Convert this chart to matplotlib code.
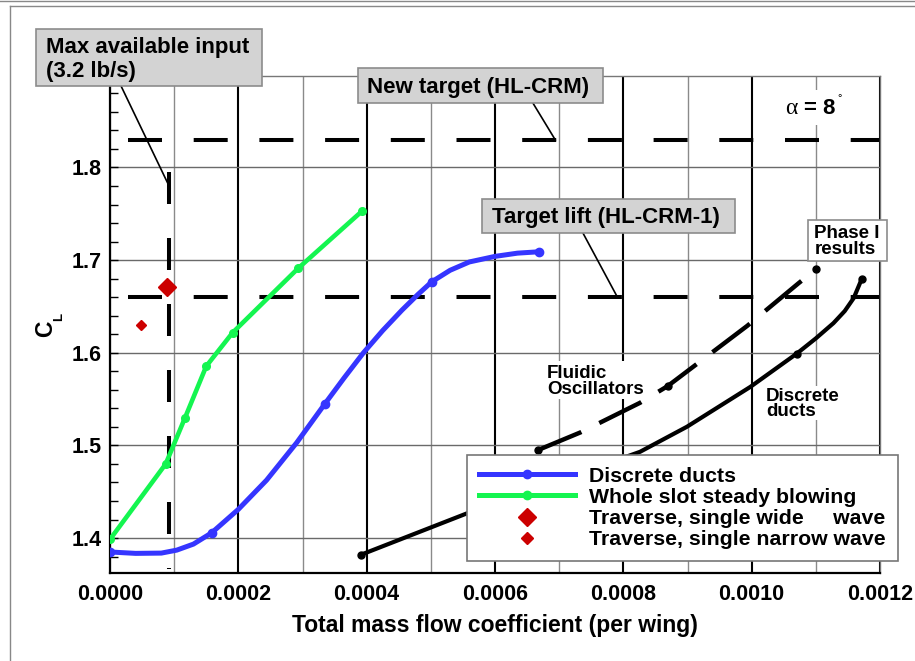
import matplotlib
matplotlib.use("Agg")
import matplotlib.pyplot as plt
from matplotlib.lines import Line2D
from matplotlib.patches import Rectangle
from matplotlib.ticker import MultipleLocator, FormatStrFormatter

W, H = 915, 661

# Discrete ducts, current configuration (markers at MARK_DUCT)
duct_x = [0.0, 0.000040, 0.000080, 0.000104, 0.000130, 0.0001585, 0.000200, 0.000244,
          0.000291, 0.000335, 0.000365, 0.000395, 0.000425, 0.000455, 0.000480,
          0.0005015, 0.000530, 0.000560, 0.000600, 0.000635, 0.000669]
duct_cl = [1.385, 1.3835, 1.3838, 1.387, 1.3935, 1.4057, 1.431, 1.4625,
           1.503, 1.545, 1.573, 1.600, 1.624, 1.646, 1.663,
           1.6766, 1.689, 1.698, 1.704, 1.7075, 1.709]
MARK_DUCT = [0, 5, 9, 15, 20]

# Whole slot steady blowing
slot_x = [0.0, 0.0000868, 0.000117, 0.000150, 0.000191, 0.000293, 0.000393]
slot_cl = [1.3986, 1.480, 1.530, 1.5855, 1.6216, 1.691, 1.753]

# Traverse points
wide_x, wide_cl = [0.0000884], [1.6712]
narrow_x, narrow_cl = [0.0000483], [1.630]

# Phase I results
p1_duct_x = [0.000391, 0.000556, 0.000826, 0.000899, 0.000998, 0.0010705, 0.0011,
             0.0011275, 0.001145, 0.001159, 0.0011718]
p1_duct_cl = [1.382, 1.4266, 1.4931, 1.5201, 1.5632, 1.5992, 1.6155,
              1.632, 1.645, 1.659, 1.6801]
MARK_P1_DUCT = [0, 5, 10]

p1_osc_x = [0.000667, 0.000733, 0.000826, 0.000869, 0.000993, 0.001073, 0.001100]
p1_osc_cl = [1.495, 1.514, 1.546, 1.564, 1.629, 1.675, 1.690]
MARK_P1_OSC = [0, 3, 6]

# Reference levels
new_target = 1.83
target_lift = 1.66
max_input_x = 0.0000925
max_input_span = [1.7955, 1.3666]

legend_labels = ["Discrete ducts", "Whole slot steady blowing",
                 "Traverse, single wide     wave", "Traverse, single narrow wave"]

BLUE = "#3535ff"
GREEN = "#14f550"
RED = "#cc0000"

plt.rcParams["font.family"] = "Liberation Sans"
plt.rcParams["font.weight"] = "bold"


def fx(px):
    return px / W


def fy(py):
    return 1 - py / H


def dash(lw, on, off, offset=0.0):
    # dash lengths given in pixels, converted to linewidth units
    k = 0.72 / lw
    return (offset * k, (on * k, off * k))


fig = plt.figure(figsize=(W / 100, H / 100), dpi=100)
ax = fig.add_axes([fx(110), fy(573.3), fx(880) - fx(110), fy(75.7) - fy(573.3)])

ax.set_xlim(0, 0.0012)
ax.set_ylim(1.362, 1.899)

ax.xaxis.set_major_locator(MultipleLocator(0.0002))
ax.xaxis.set_minor_locator(MultipleLocator(0.0001))
ax.yaxis.set_major_locator(MultipleLocator(0.1))
ax.yaxis.set_minor_locator(MultipleLocator(0.02))
ax.xaxis.set_major_formatter(FormatStrFormatter("%.4f"))
ax.yaxis.set_major_formatter(FormatStrFormatter("%.1f"))

ax.grid(which="major", axis="x", color="black", lw=1.5)
ax.grid(which="minor", axis="x", color="#8a8a8a", lw=1.0)
ax.grid(which="major", axis="y", color="#6a6a6a", lw=1.0)
ax.set_axisbelow(True)

ax.tick_params(axis="x", which="both", length=0, pad=8, labelsize=15.5)
ax.tick_params(axis="y", which="both", direction="in", length=6, width=1,
               pad=6, labelsize=15.5)

for s in ("left", "bottom"):
    ax.spines[s].set_linewidth(1.6)
    ax.spines[s].set_color("black")
for s in ("top", "right"):
    ax.spines[s].set_linewidth(1.0)
    ax.spines[s].set_color("#777777")

# reference levels
lw_ref = 2.9
ax.plot([0, 0.0012], [new_target, new_target], color="black", lw=lw_ref,
        ls=dash(lw_ref, 34, 31.7, 47.7), zorder=2)
ax.plot([0, 0.0012], [target_lift, target_lift], color="black", lw=lw_ref,
        ls=dash(lw_ref, 34, 31.7, 47.7), zorder=2)
ax.plot([max_input_x, max_input_x], max_input_span, color="black", lw=lw_ref,
        ls=dash(lw_ref, 32, 34), zorder=2)

# leader lines from the label boxes
ax.plot([0.0000172, 0.0000935], [1.8879, 1.7779], color="black", lw=1.2,
        clip_on=False, zorder=2)
ax.plot([0.000659, 0.000694], [1.8696, 1.8297], color="black", lw=1.2, zorder=2)
ax.plot([0.000737, 0.000790], [1.7293, 1.661], color="black", lw=1.2, zorder=2)

# Phase I curves
ax.plot(p1_duct_x, p1_duct_cl, color="black", lw=3.0, marker="o", ms=5,
        markevery=MARK_P1_DUCT, zorder=3, solid_capstyle="round",
        solid_joinstyle="round")
ax.plot(p1_osc_x, p1_osc_cl, color="black", lw=3.2, ls=dash(3.2, 47, 20),
        zorder=3)
ax.plot([p1_osc_x[i] for i in MARK_P1_OSC], [p1_osc_cl[i] for i in MARK_P1_OSC],
        ls="none", marker="o", ms=5, color="black", zorder=3)

# current results
ax.plot(slot_x, slot_cl, color=GREEN, lw=3.3, marker="o", ms=5.5, zorder=4,
        solid_joinstyle="round", solid_capstyle="round")
ax.plot(duct_x, duct_cl, color=BLUE, lw=3.6, marker="o", ms=6,
        markevery=MARK_DUCT, zorder=4, solid_joinstyle="round",
        solid_capstyle="round")
ax.plot(wide_x, wide_cl, ls="none", marker="D", ms=8.7, color=RED, zorder=4)
ax.plot(narrow_x, narrow_cl, ls="none", marker="D", ms=5.4, color=RED, zorder=4)

handles = [
    Line2D([], [], color=BLUE, lw=3.6, marker="o", ms=6),
    Line2D([], [], color=GREEN, lw=3.6, marker="o", ms=6),
    Line2D([], [], ls="none", marker="D", ms=8.7, color=RED),
    Line2D([], [], ls="none", marker="D", ms=6.5, color=RED),
]
leg = ax.legend(handles, legend_labels, loc="upper left",
                bbox_to_anchor=(fx(467), fy(455)), bbox_transform=fig.transFigure,
                prop=dict(family="Liberation Sans", weight="bold", size=15.3),
                handlelength=4.55, handletextpad=0.65, labelspacing=0.1,
                borderpad=0.55, borderaxespad=0, fancybox=False,
                edgecolor="#777777", framealpha=1)
leg.get_frame().set_linewidth(1.2)
leg.set_zorder(6)

ax.set_xlabel("Total mass flow coefficient (per wing)", fontsize=16.5,
              fontweight="bold", labelpad=6)

# rotated C_L axis title
fig.text(fx(46), fy(329), "C", rotation=90, fontsize=16.5, ha="center", va="center")
fig.text(fx(59), fy(317), "L", rotation=90, fontsize=9.5, ha="center", va="center")


def label_box(x0, y0, x1, y1, lines, size, fc, ec):
    fig.add_artist(Rectangle((fx(x0), fy(y1)), fx(x1) - fx(x0), fy(y0) - fy(y1),
                             transform=fig.transFigure, fc=fc, ec=ec, lw=1.2,
                             zorder=5))
    for text, tx, ty in lines:
        fig.text(fx(tx), fy(ty), text, fontsize=size, va="baseline", ha="left",
                 zorder=6)


label_box(36, 29, 262, 86, [("Max available input", 46, 53.3),
                            ("(3.2 lb/s)", 46, 77.5)], 16, "#d3d3d3", "#8c8c8c")
label_box(357.7, 68, 603, 102.7, [("New target (HL-CRM)", 366.7, 93.3)], 16,
          "#d3d3d3", "#8c8c8c")
label_box(481.7, 199, 735, 233, [("Target lift (HL-CRM-1)", 492.3, 222.7)], 16,
          "#d3d3d3", "#8c8c8c")
label_box(808, 220, 887, 261, [("Phase I", 814.5, 238.3), ("results", 814.5, 254.5)],
          13.5, "white", "#8c8c8c")

# plain labels on a white patch
for x0, y0, x1, y1 in [(545, 361, 645, 399), (764, 386, 842, 420), (780, 90, 848, 125)]:
    fig.add_artist(Rectangle((fx(x0), fy(y1)), fx(x1) - fx(x0), fy(y0) - fy(y1),
                             transform=fig.transFigure, fc="white", ec="none",
                             zorder=1.5))
for text, tx, ty in [("Fluidic", 547, 378.3), ("Oscillators", 547, 394),
                     ("Discrete", 766, 400.7), ("ducts", 766, 416)]:
    fig.text(fx(tx), fy(ty), text, fontsize=13.5, va="baseline", ha="left", zorder=6)

fig.text(fx(785.5), fy(114.3), "α", family="Liberation Serif", weight="normal",
         fontsize=17, va="baseline", ha="left", zorder=6)
fig.text(fx(804), fy(114.3), "= 8", fontsize=16, va="baseline", ha="left", zorder=6)
fig.text(fx(837), fy(101.5), "°", fontsize=8, weight="normal", va="baseline",
         ha="left", zorder=6)

# panel frame
fig.add_artist(Line2D([0, 1], [fy(0.6), fy(0.6)], transform=fig.transFigure,
                      color="#888888", lw=1.0))
fig.add_artist(Line2D([fx(10), 1], [fy(5.5), fy(5.5)], transform=fig.transFigure,
                      color="#888888", lw=1.0))
fig.add_artist(Line2D([fx(10), fx(10)], [fy(5.5), 0], transform=fig.transFigure,
                      color="#888888", lw=1.0))

fig.savefig("out.png", dpi=100)
